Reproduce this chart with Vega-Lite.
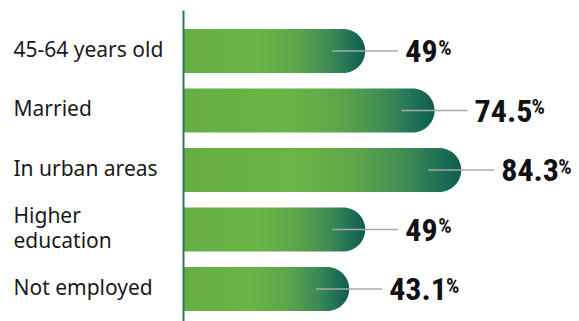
{
  "$schema": "https://vega.github.io/schema/vega-lite/v6.json",
  "autosize": {"type": "none"},
  "padding": {"left": 183, "top": 10, "right": 0, "bottom": 0},
  "width": 396,
  "height": 311,
  "background": "white",
  "config": {"view": {"stroke": null}},
  "data": {
    "values": [
      {"category": "45-64 years old", "value": 49},
      {"category": "Married", "value": 74.5},
      {"category": "In urban areas", "value": 84.3},
      {"category": "Higher education", "value": 49},
      {"category": "Not employed", "value": 43.1}
    ]
  },
  "encoding": {
    "y": {
      "field": "category",
      "type": "nominal",
      "sort": null,
      "scale": {"paddingInner": 0.26, "paddingOuter": 0.2435, "align": 0.655},
      "axis": {
        "title": null,
        "domain": true,
        "domainColor": "#2d7866",
        "domainWidth": 2,
        "ticks": false,
        "tickSize": 0,
        "grid": false,
        "zindex": 1,
        "labelAlign": "left",
        "labelBaseline": "middle",
        "labelPadding": 170,
        "labelOffset": {"condition": {"test": "datum.value == 'Higher education'", "value": -12.5}, "value": 0},
        "labelFont": "Noto Sans",
        "labelFontSize": 21,
        "labelColor": "#1a1a1a",
        "labelLineHeight": 25,
        "labelLimit": 0,
        "labelExpr": "datum.label == 'Higher education' ? ['Higher', 'education'] : datum.label"
      }
    }
  },
  "layer": [
    {
      "mark": {
        "type": "bar",
        "cornerRadiusTopRight": 22,
        "cornerRadiusBottomRight": 22,
        "fill": {
          "gradient": "linear",
          "x1": 0, "y1": 0, "x2": 1, "y2": 0,
          "stops": [
            {"offset": 0, "color": "#66ae44"},
            {"offset": 0.4, "color": "#6ab546"},
            {"offset": 0.62, "color": "#5ea64a"},
            {"offset": 0.8, "color": "#3f8c55"},
            {"offset": 0.93, "color": "#1d6e57"},
            {"offset": 1, "color": "#0f5d4f"}
          ]
        }
      },
      "encoding": {
        "x": {
          "field": "value",
          "type": "quantitative",
          "scale": {"domain": [-18, 127.6], "zero": false, "nice": false},
          "axis": null
        },
        "x2": {"datum": -18}
      }
    },
    {
      "mark": {"type": "rule", "color": "#a9a9a9", "strokeWidth": 1.5, "xOffset": -33, "x2Offset": 33},
      "encoding": {
        "x": {"field": "value", "type": "quantitative"},
        "x2": {"field": "value"}
      }
    },
    {
      "mark": {
        "type": "text",
        "align": "left",
        "baseline": "alphabetic",
        "dx": 40,
        "dy": 11.4,
        "font": "'Roboto Condensed', 'Roboto', sans-serif",
        "fontWeight": "bold",
        "fontSize": 32,
        "color": "#111111"
      },
      "encoding": {
        "x": {"field": "value", "type": "quantitative"},
        "text": {"field": "value", "type": "quantitative", "format": ".3~"}
      }
    },
    {
      "mark": {
        "type": "text",
        "align": "left",
        "baseline": "alphabetic",
        "dx": {"expr": "41.5 + 15.8 * length(replace(format(datum.value, '.3~'), '.', '')) + (datum.value % 1 != 0 ? 8 : 0)"},
        "dy": 3.6,
        "font": "'Roboto Condensed', 'Roboto', sans-serif",
        "fontWeight": "bold",
        "fontSize": 21,
        "color": "#111111"
      },
      "encoding": {
        "x": {"field": "value", "type": "quantitative"},
        "text": {"value": "%"}
      }
    }
  ]
}
